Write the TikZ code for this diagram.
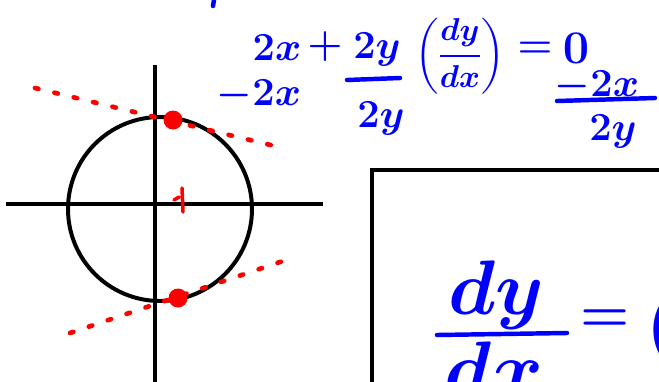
\RequirePackage{fix-cm}
\documentclass[tikz,border=0pt]{standalone}
\usepackage{amsmath,amssymb}
\usetikzlibrary{positioning}

\tikzset{
  hand/.style={text=blue, inner sep=0pt, font=\fontsize{34}{38}\selectfont\boldmath},
  bighand/.style={text=blue, inner sep=0pt, font=\fontsize{66}{72}\selectfont\boldmath},
  inkbar/.style={blue, line width=3.8pt, line cap=round},
  tangent/.style={red, line width=4pt, line cap=round, dash pattern=on 3pt off 14pt},
}

\begin{document}
\begin{tikzpicture}[x=0.03cm, y=-0.03cm]
\useasboundingbox (0,0) rectangle (659,381);
\clip (0,0) rectangle (659,381);

% circle and axes
\draw[line width=3.6pt] (6,204) -- (323,204);
\draw[line width=3.6pt] (155,65) -- (155,385);
\draw[line width=3.4pt] (160,209) circle (92);

% tangent points and dotted tangents
\coordinate (top) at (173,120);
\coordinate (bot) at (178,298);
\coordinate (topL) at (35,88);
\coordinate (topR) at (283,148);
\coordinate (botL) at (70,333);
\coordinate (botR) at (283,261);
\draw[tangent] (topL) -- (topR);
\draw[tangent] (botL) -- (botR);
\fill[red] (top) circle (9.5);
\fill[red] (bot) circle (9.5);
\draw[red, line width=3pt, line cap=round] (174,200) -- (179,197) (182,188) -- (183,212);

% working
\draw[inkbar] (214,0) -- (213,6);
\node[hand, anchor=base] (twox)  at (277,60) {$2x$};
\node[hand]              (plus)  at (325,47) {$+$};
\node[hand, anchor=base] (twoy)  at (377,58) {$2y$};
\node[hand, font=\fontsize{27}{30}\selectfont\boldmath] (ddx) at (460,56) {$\left(\dfrac{dy}{dx}\right)$};
\node[hand]              (eq)    at (535,50) {$=$};
\node[hand, anchor=base, font=\fontsize{40}{44}\selectfont\boldmath] (zero) at (576,63) {$0$};
\node[hand, anchor=base] (subx)  at (259,105) {$-2x$};
\coordinate (barL) at (347,80);
\coordinate (barR) at (400,78);
\draw[inkbar] (barL) -- (barR);
\node[hand, anchor=base] (divy)  at (381,127) {$2y$};
\node[hand, anchor=base] (negx)  at (597,96) {$-2x$};
\coordinate (rbarL) at (557,101);
\coordinate (rbarR) at (655,98);
\draw[inkbar] (rbarL) -- (rbarR);
\node[hand, anchor=base] (negy)  at (613,140) {$2y$};

% answer box
\draw[line width=3.4pt] (372,390) -- (372,170) -- (665,170);
\node[bighand, anchor=base] (dy) at (496,314) {$dy$};
\coordinate (fbarL) at (437,335);
\coordinate (fbarR) at (567,333);
\draw[inkbar] (fbarL) -- (fbarR);
\node[bighand, anchor=base] (dx) at (494,395) {$dx$};
\node[hand, font=\fontsize{48}{52}\selectfont\boldmath] (eqb) at (605,321) {$=$};
\node[bighand, anchor=west] (paren) at (645,330) {$($};
\end{tikzpicture}
\end{document}
